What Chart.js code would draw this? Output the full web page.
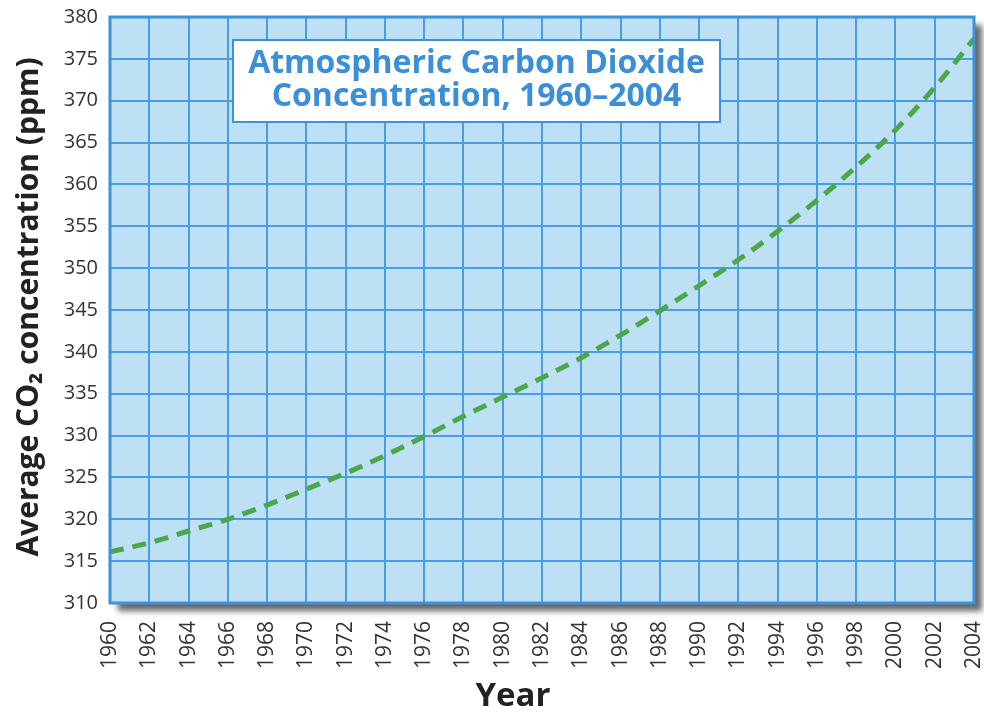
<!DOCTYPE html>
<html>
<head>
<meta charset="utf-8">
<script src="https://cdn.jsdelivr.net/npm/chart.js@4/dist/chart.umd.min.js"></script>
<style>
  html, body { margin: 0; padding: 0; background: #ffffff; }
  #wrap { position: relative; width: 984px; height: 715px; }
</style>
</head>
<body>
<div id="wrap"><canvas id="c"></canvas></div>
<script>
// ---- data ----
const years = [1960, 1962, 1964, 1966, 1968, 1970, 1972, 1974, 1976, 1978, 1980, 1982,
               1984, 1986, 1988, 1990, 1992, 1994, 1996, 1998, 2000, 2002, 2004];
const co2 = [316.1, 317.2, 318.6, 320.0, 321.7, 323.6, 325.5, 327.6, 329.9, 332.3, 334.6, 336.9,
             339.3, 342.0, 344.9, 347.9, 351.0, 354.4, 358.1, 362.1, 366.5, 371.6, 377.4];
const xTickYears = years.slice();
const yTickValues = [310, 315, 320, 325, 330, 335, 340, 345, 350, 355, 360, 365, 370, 375, 380];
const titleLines = ['Atmospheric Carbon Dioxide', 'Concentration, 1960\u20132004'];
const xTitle = 'Year';
const yTitle = 'Average CO\u2082 concentration (ppm)';

const FONT = "'Open Sans', 'DejaVu Sans', sans-serif";
const BLUE = '#3d92dc';

const framePlugin = {
  id: 'frame',
  beforeDraw(chart) {
    const { ctx, chartArea: a } = chart;
    ctx.save();
    ctx.shadowColor = 'rgba(0,0,0,0.6)';
    ctx.shadowBlur = 6;
    ctx.shadowOffsetX = 8;
    ctx.shadowOffsetY = 8;
    ctx.fillStyle = '#bde0f5';
    ctx.fillRect(a.left, a.top, a.right - a.left, a.bottom - a.top);
    ctx.restore();
  },
  afterDraw(chart) {
    const { ctx, chartArea: a } = chart;
    ctx.save();
    ctx.strokeStyle = BLUE;
    ctx.lineWidth = 3;
    ctx.strokeRect(a.left, a.top, a.right - a.left, a.bottom - a.top);
    // title box
    const bx = a.left + 123, by = a.top + 23, bw = 487, bh = 82;
    ctx.fillStyle = '#ffffff';
    ctx.fillRect(bx, by, bw, bh);
    ctx.lineWidth = 2;
    ctx.strokeRect(bx, by, bw, bh);
    ctx.fillStyle = '#3a8fd8';
    ctx.font = 'bold 32px ' + FONT;
    ctx.textAlign = 'center';
    ctx.textBaseline = 'middle';
    ctx.fillText(titleLines[0], bx + bw / 2, by + 24);
    ctx.fillText(titleLines[1], bx + bw / 2, by + 57);
    // axis titles
    ctx.fillStyle = '#222';
    ctx.font = 'bold 33px ' + FONT;
    ctx.fillText(xTitle, a.left + 403, a.bottom + 94);
    ctx.translate(29, a.top + 290);
    ctx.rotate(-Math.PI / 2);
    ctx.font = 'bold 30px ' + FONT;
    ctx.fillText(yTitle, 0, 0);
    ctx.restore();
  }
};

new Chart(document.getElementById('c'), {
  type: 'line',
  data: {
    datasets: [{
      data: years.map((y, i) => ({ x: y, y: co2[i] })),
      borderColor: '#4aa84a',
      borderWidth: 5,
      borderDash: [14, 9],
      pointRadius: 0,
      cubicInterpolationMode: 'monotone',
      fill: false
    }]
  },
  options: {
    responsive: true,
    maintainAspectRatio: false,
    animation: false,
    layout: { padding: { top: 17, right: 10, left: 0, bottom: 0 } },
    plugins: { legend: { display: false }, tooltip: { enabled: false } },
    scales: {
      x: {
        type: 'linear',
        min: 1960, max: 2004,
        afterBuildTicks(s) { s.ticks = xTickYears.map(v => ({ value: v })); },
        afterFit(s) { s.height = 112; s.paddingLeft = 0; s.paddingRight = 0; },
        grid: { color: '#4a9de2', lineWidth: 2, drawTicks: false },
        border: { display: false },
        ticks: {
          autoSkip: false, maxRotation: 90, minRotation: 90, padding: 18,
          color: '#333', font: { family: FONT, size: 21 },
          callback: v => String(v)
        }
      },
      y: {
        min: 310, max: 380,
        afterBuildTicks(s) { s.ticks = yTickValues.map(v => ({ value: v })); },
        afterFit(s) { s.width = 110; s.paddingTop = 0; s.paddingBottom = 0; },
        grid: { color: '#4a9de2', lineWidth: 2, drawTicks: false },
        border: { display: false },
        ticks: {
          padding: 12, color: '#333', font: { family: FONT, size: 20 },
          callback: v => String(v)
        }
      }
    }
  },
  plugins: [framePlugin]
});
</script>
</body>
</html>
